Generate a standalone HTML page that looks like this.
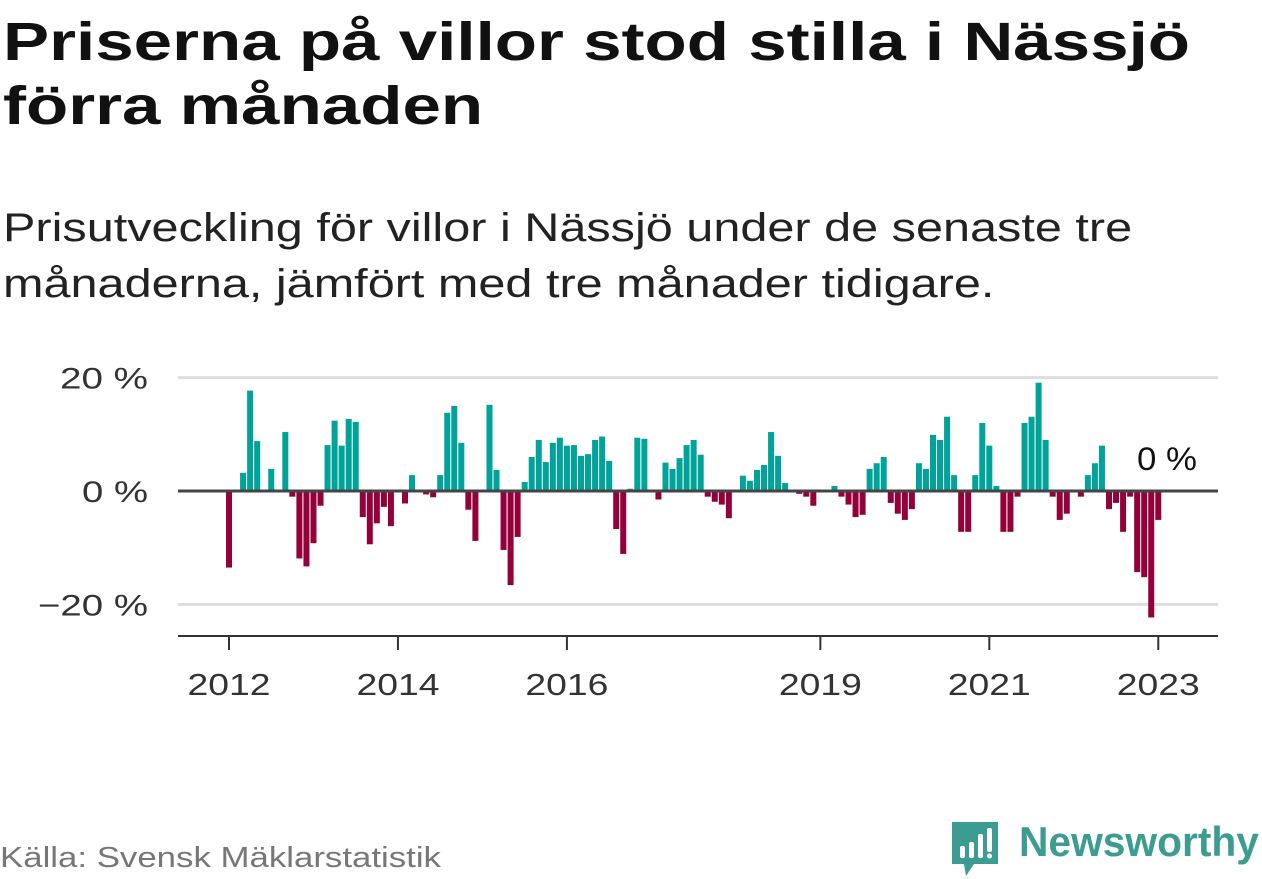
<!DOCTYPE html>
<html><head><meta charset="utf-8"><style>
body{margin:0;width:1262px;height:879px;background:#fff;overflow:hidden;font-family:"Liberation Sans",sans-serif;position:relative}
#title{position:absolute;left:3px;top:10px;margin:0;font-size:54px;font-weight:bold;line-height:64px;color:#111;transform:scaleX(1.28);transform-origin:0 0;white-space:nowrap}
#sub{position:absolute;left:3px;top:200px;margin:0;font-size:40px;line-height:56px;color:#222;transform:scaleX(1.215);transform-origin:0 0;white-space:nowrap}
#src{position:absolute;left:0;top:842px;font-size:29px;color:#777;transform:scaleX(1.2);transform-origin:0 0;white-space:nowrap}
#logo{position:absolute;left:950px;top:820px}
#logo-text{position:absolute;left:1019px;top:818px;font-size:42px;font-weight:bold;color:#3d9c92;transform:scaleX(0.97);transform-origin:0 0}
svg text{font-family:"Liberation Sans",sans-serif}
</style></head><body>
<h1 id="title">Priserna på villor stod stilla i Nässjö<br>förra månaden</h1>
<p id="sub">Prisutveckling för villor i Nässjö under de senaste tre<br>månaderna, jämfört med tre månader tidigare.</p>
<svg id="chart" width="1262" height="879" style="position:absolute;left:0;top:0"></svg>
<div id="src">Källa: Svensk Mäklarstatistik</div>
<svg id="logo" width="52" height="58" viewBox="0 0 52 58">
<path d="M2 2h46v42H24l-8 12-2-12H2z" fill="#3d9c92"/>
<rect x="10" y="26" width="5" height="12" rx="2" fill="#fff"/><rect x="19" y="22" width="5" height="16" rx="2" fill="#fff"/><rect x="28" y="14" width="5" height="24" rx="2" fill="#fff"/><rect x="37" y="8" width="5" height="24" rx="2" fill="#fff"/><circle cx="39.5" cy="36" r="2.5" fill="#fff"/>
</svg>
<div id="logo-text">Newsworthy</div>
<script>
const values=[-13.5,0,3.2,17.7,8.8,0,3.9,0,10.4,-1,-11.9,-13.3,-9.2,-2.6,8.1,12.4,8,12.7,12.2,-4.6,-9.4,-5.7,-2.8,-6.2,0,-2.2,2.8,0,-0.6,-1.1,2.8,13.8,15,8.5,-3.3,-8.8,0,15.2,3.7,-10.4,-16.6,-8.1,1.6,6,9,5.1,8.5,9.4,8,8.1,6.2,6.5,9,9.6,5.3,-6.7,-11.1,0.4,9.4,9.2,0,-1.5,5,3.9,5.8,8.1,9,6.4,-1,-1.9,-2.4,-4.8,0,2.7,1.8,3.7,4.6,10.4,6.2,1.4,0,-0.5,-1,-2.6,0,0,0.9,-1,-2.4,-4.6,-4.2,3.9,4.9,6,-2.1,-4,-5.1,-3.2,4.9,3.9,9.9,9,13.1,2.8,-7.2,-7.2,2.8,12,8,0.9,-7.2,-7.2,-1,12,13.1,19.1,9,-1,-5.1,-4,0,-1,2.8,4.9,8,-3.2,-2.1,-7.2,-1,-14.3,-15.2,-22.3,-5.1,0];
const yTicks=[20,0,-20];
const yTickLabels=["20 %","0 %","−20 %"];
const xTickIdx=[0,24,48,84,108,132];
const xTickLabels=["2012","2014","2016","2019","2021","2023"];
const lastLabel="0 %";
const NS="http://www.w3.org/2000/svg";
const svg=document.getElementById('chart');
const x=i=>229+i*7.04;
const y=v=>491-v*5.67;
function mk(t,a){const e=document.createElementNS(NS,t);for(const k in a)e.setAttribute(k,a[k]);svg.appendChild(e);return e;}
yTicks.forEach((t,k)=>{
  if(t!==0){const g=mk('line',{x1:178,x2:1218,y1:y(t),y2:y(t),stroke:'#ddd','stroke-width':3});
  
  }
  const l=mk('text',{x:148,y:y(t)+11,'text-anchor':'end','font-size':30,fill:'#333',lengthAdjust:'spacingAndGlyphs'});
  
  
  l.textContent=yTickLabels[k];
  l.setAttribute('textLength',yTickLabels[k].length*22);
});
values.forEach((v,i)=>{
  if(v===0)return;
  const r=mk('rect',{x:x(i)-3,width:6,y:Math.min(y(v),y(0)),height:Math.abs(y(v)-y(0)),fill:v>0?'#00a39a':'#93003a'});
  
  
});
const z=mk('line',{x1:178,x2:1218,y1:y(0),y2:y(0),stroke:'#444','stroke-width':3});


const ax=mk('line',{x1:178,x2:1218,y1:636,y2:636,stroke:'#333','stroke-width':2});


xTickIdx.forEach((idx,k)=>{
  const t=mk('line',{x1:x(idx),x2:x(idx),y1:636,y2:650,stroke:'#333','stroke-width':2});
  
  
  const l=mk('text',{x:x(idx),y:695,'text-anchor':'middle','font-size':31,fill:'#333',textLength:83,lengthAdjust:'spacingAndGlyphs'});
  
  
  l.textContent=xTickLabels[k];
});
const ll=mk('text',{x:1197,y:470,'text-anchor':'end','font-size':32,fill:'#111',textLength:60,lengthAdjust:'spacingAndGlyphs'});


ll.textContent=lastLabel;
</script>
</body></html>
